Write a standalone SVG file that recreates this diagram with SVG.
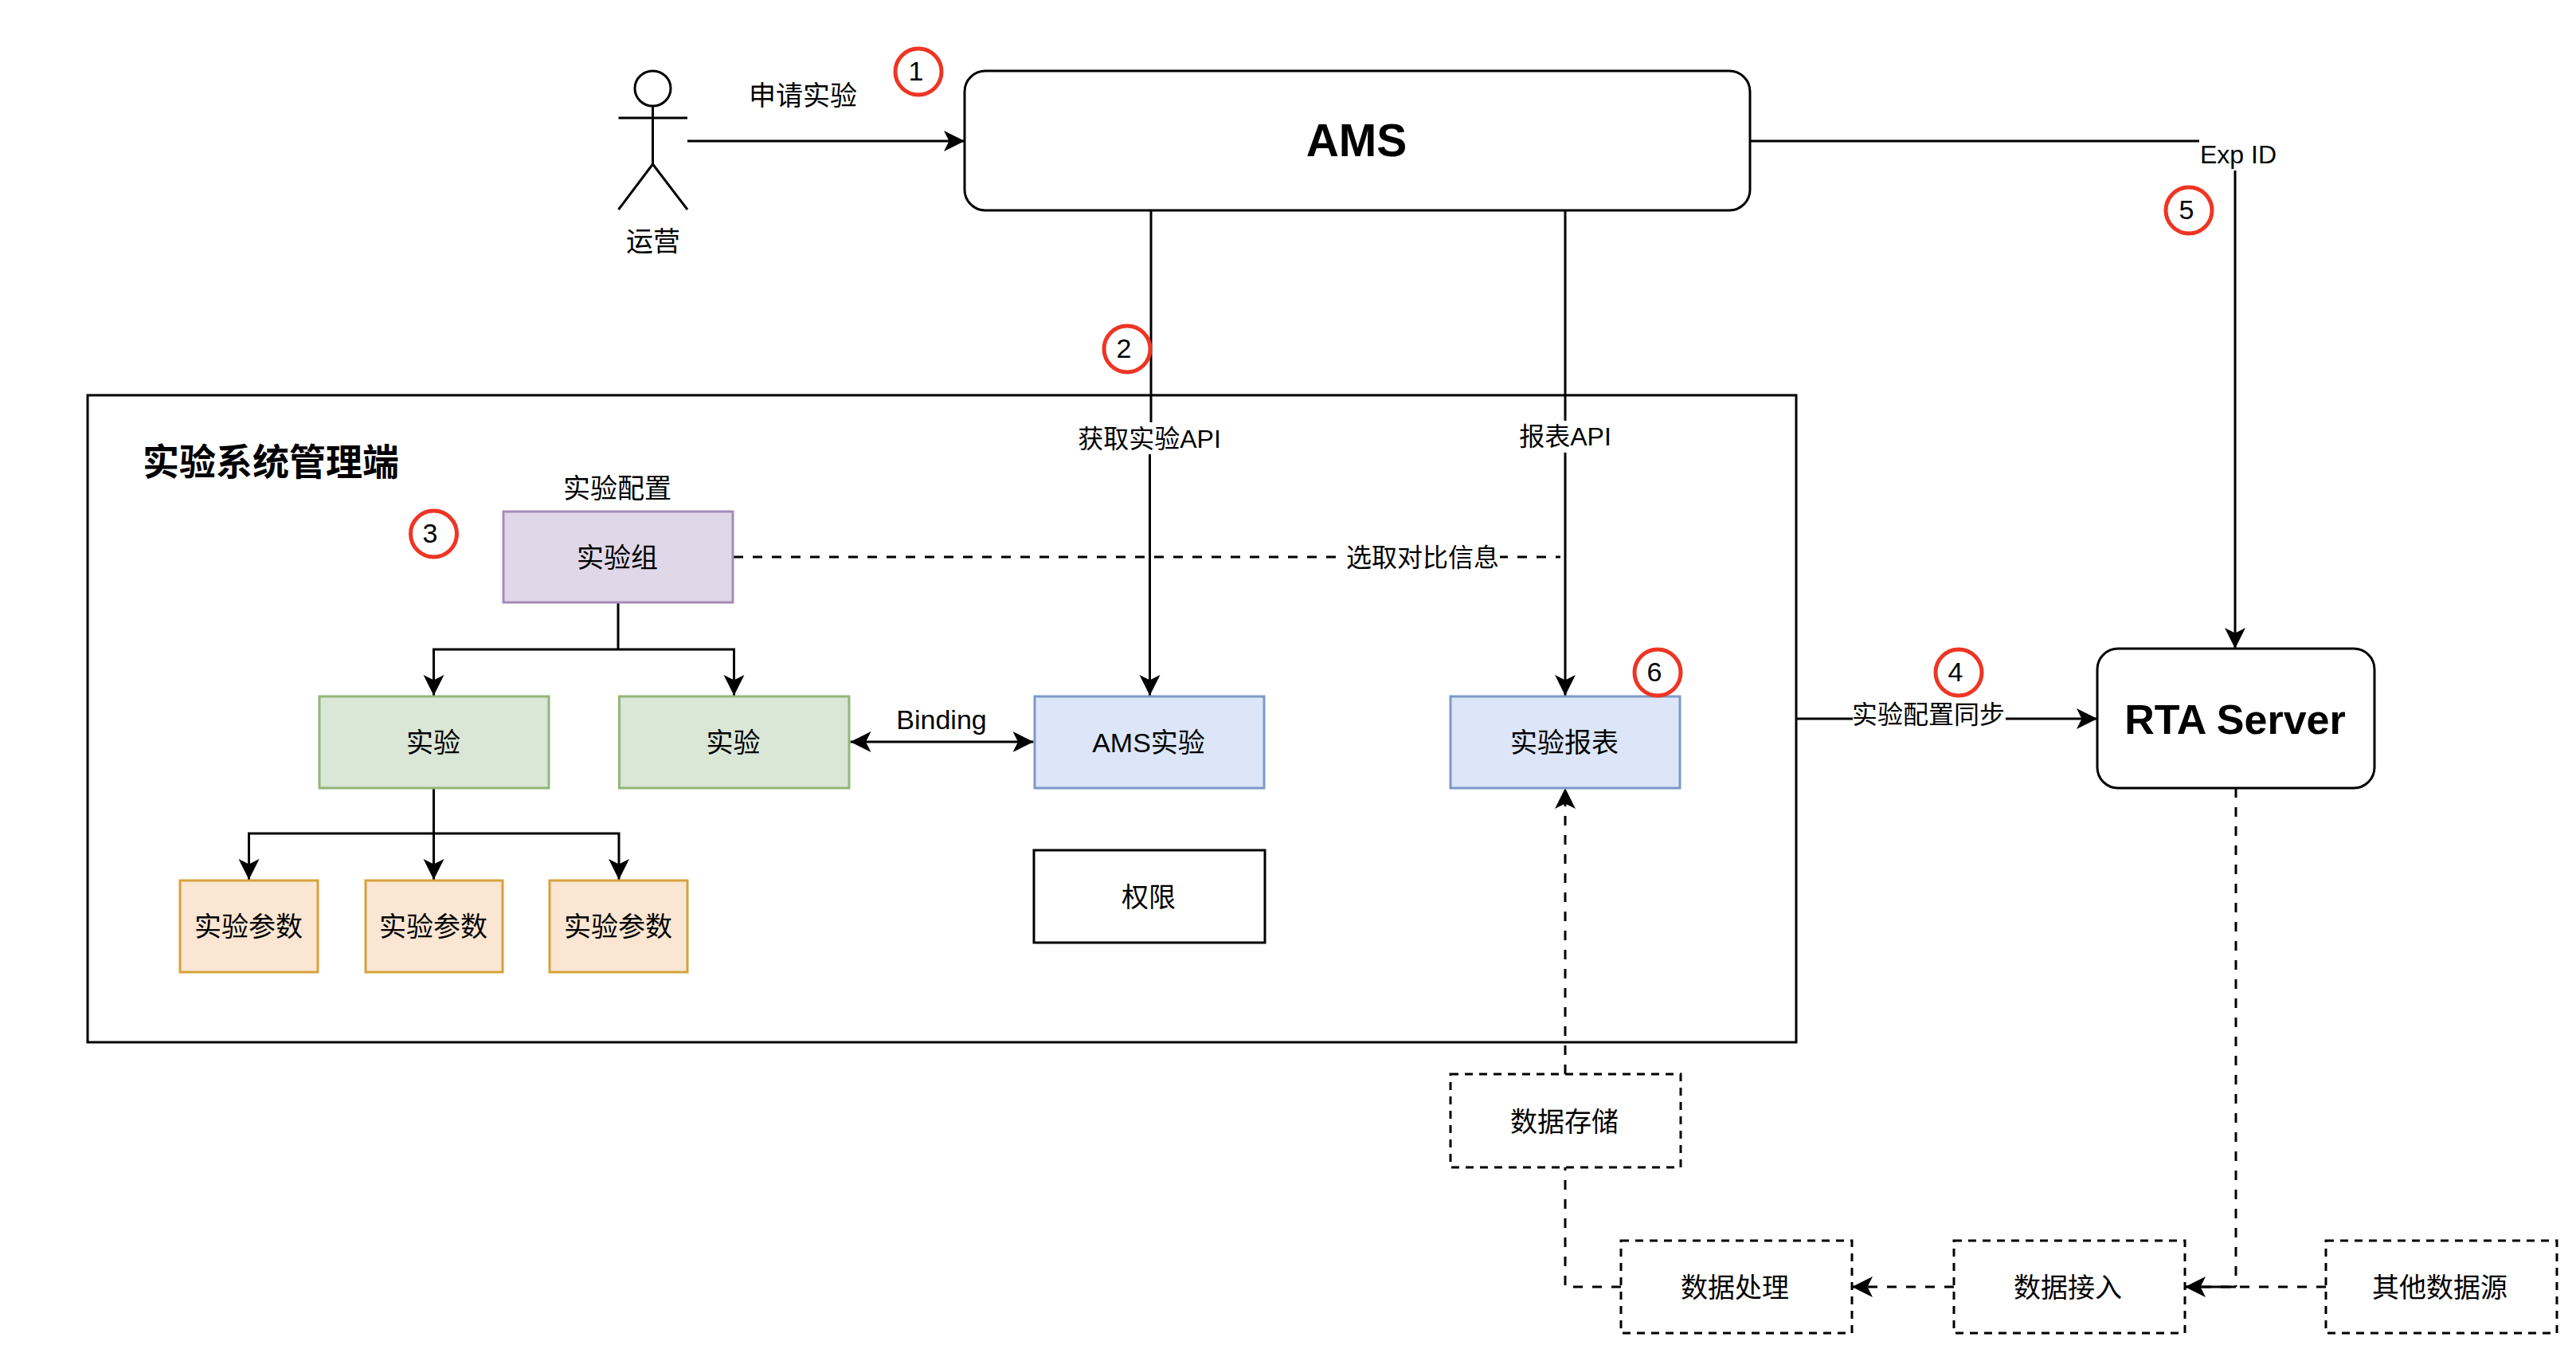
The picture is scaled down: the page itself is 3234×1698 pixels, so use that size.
<svg xmlns="http://www.w3.org/2000/svg" width="3234" height="1698" viewBox="0 0 3234 1698">
<style>
text{font-family:"Liberation Sans","Noto Sans CJK SC",sans-serif;font-size:34px;fill:#000;text-anchor:middle;dominant-baseline:central}
.lbl{font-size:32px}
.b{font-weight:700}
.line{fill:none;stroke:#000;stroke-width:3;stroke-linejoin:miter}
.dash{stroke-dasharray:12 12}
.arr{marker-end:url(#a)}
.arrs{marker-start:url(#as);marker-end:url(#a)}
.box{stroke-width:3}
.purple{fill:#e0d8e8;stroke:#a48bb8}
.green{fill:#dae6d6;stroke:#93b679}
.blue{fill:#dce6f8;stroke:#7d99c6}
.orange{fill:#fae6d2;stroke:#d6a23c}
.plain{fill:#fff;stroke:#000}
.dbox{fill:#fff;stroke:#000;stroke-dasharray:10 8}
.num{fill:#fff;stroke:#ee3524;stroke-width:5}
.bg{fill:#fff;stroke:none}
</style>
<defs>
<marker id="a" markerUnits="userSpaceOnUse" markerWidth="28" markerHeight="28" refX="26" refY="14" orient="auto"><path d="M26,14 L0,1 L6.5,14 L0,27Z" fill="#000"/></marker>
<marker id="as" markerUnits="userSpaceOnUse" markerWidth="28" markerHeight="28" refX="2" refY="14" orient="auto"><path d="M2,14 L28,1 L21.5,14 L28,27Z" fill="#000"/></marker>
</defs>
<rect width="3234" height="1698" fill="#fff"/>
<g id="system"><rect class="box plain" x="110" y="496" width="2145" height="812"/>
<text class="b" x="340" y="580" style="font-size:46px">实验系统管理端</text></g>
<g id="connectors">
<path class="line arr" d="M863,177H1211"/>
<path class="line arr" d="M1445,264V551H1443.5V873"/>
<path class="line arr" d="M1965,264V873"/>
<path class="line" d="M2197,177H2806"/>
<path class="line arr" d="M2806,177V814"/>
<path class="line dash" d="M921,699H1959"/>
<path class="line arr" d="M2255,902H2633"/>
<path class="line" d="M776,757V815"/>
<path class="line arr" d="M776,815H544.5V873"/>
<path class="line arr" d="M776,815H921.5V873"/>
<path class="line" d="M544.5,989V1046"/>
<path class="line arr" d="M544.5,1046H312.5V1104"/>
<path class="line arr" d="M544.5,1046V1104"/>
<path class="line arr" d="M544.5,1046H777V1104"/>
<path class="line arrs" d="M1067.5,931H1297.5"/>
<path class="line dash arr" d="M1965,1348V989"/>
<path class="line dash" d="M2035,1615H1965V1465"/>
<path class="line dash arr" d="M2453,1615H2325"/>
<path class="line dash arr" d="M2920,1615H2743"/>
<path class="line dash" d="M2807,989V1615"/>
<path class="line" d="M2807,1615H2743"/>
<rect class="bg" x="1351" y="530" width="186" height="40"/><text class="lbl" x="1443" y="551">获取实验API</text>
<rect class="bg" x="1905" y="528" width="120" height="40"/><text class="lbl" x="1965" y="548">报表API</text>
<rect class="bg" x="1689" y="680" width="194" height="38"/><text class="lbl" x="1786" y="700">选取对比信息</text>
<rect class="bg" x="2761" y="175" width="100" height="39"/><text class="lbl" x="2810" y="194">Exp ID</text>
<rect class="bg" x="2326" y="878" width="192" height="38"/><text class="lbl" x="2421" y="897">实验配置同步</text>
<text x="1182" y="903">Binding</text>
<text x="1008" y="120">申请实验</text>
</g>
<g id="actor"><ellipse class="line" cx="819.5" cy="111" rx="22.5" ry="22"/><path class="line" d="M819.5,133V206M776.5,148H863M819.5,206L776.5,263M819.5,206L863,263"/><text x="820" y="303">运营</text></g>
<g id="ams"><rect class="box plain" x="1211" y="89" width="986" height="175" rx="26"/><text class="b" x="1703" y="176" style="font-size:57px">AMS</text></g>
<g id="rta"><rect class="box plain" x="2633" y="814" width="348" height="175" rx="26"/><text class="b" x="2806" y="903" style="font-size:52px">RTA Server</text></g>
<g id="group"><rect class="box purple" x="632" y="642" width="288" height="114"/><text x="775" y="700">实验组</text><text x="775" y="613">实验配置</text></g>
<g id="exp1"><rect class="box green" x="401" y="874" width="288" height="115"/><text x="544" y="932">实验</text></g>
<g id="exp2"><rect class="box green" x="777.5" y="874" width="288.5" height="115"/><text x="920.5" y="932">实验</text></g>
<g id="amsexp"><rect class="box blue" x="1299" y="874" width="288" height="115"/><text x="1442" y="932">AMS实验</text></g>
<g id="report"><rect class="box blue" x="1821" y="874" width="288" height="115"/><text x="1964" y="932">实验报表</text></g>
<g id="param1"><rect class="box orange" x="226" y="1105" width="173" height="115"/><text x="312" y="1163">实验参数</text></g>
<g id="param2"><rect class="box orange" x="459" y="1105" width="172" height="115"/><text x="544" y="1163">实验参数</text></g>
<g id="param3"><rect class="box orange" x="690" y="1105" width="173" height="115"/><text x="776" y="1163">实验参数</text></g>
<g id="perm"><rect class="box plain" x="1298" y="1067" width="290" height="116"/><text x="1442" y="1126">权限</text></g>
<g id="store"><rect class="box dbox" x="1821" y="1348" width="289" height="117"/><text x="1964" y="1408">数据存储</text></g>
<g id="proc"><rect class="box dbox" x="2035" y="1557" width="290" height="116"/><text x="2178" y="1616">数据处理</text></g>
<g id="ingest"><rect class="box dbox" x="2453" y="1557" width="290" height="116"/><text x="2596" y="1616">数据接入</text></g>
<g id="other"><rect class="box dbox" x="2920" y="1557" width="290" height="116"/><text x="3063" y="1616">其他数据源</text></g>
<g id="marks">
<circle class="num" cx="1153" cy="90" r="29"/><text x="1150" y="89">1</text>
<circle class="num" cx="1415" cy="438" r="29"/><text x="1411" y="437">2</text>
<circle class="num" cx="544.5" cy="670" r="29"/><text x="540" y="669">3</text>
<circle class="num" cx="2459" cy="844" r="29"/><text x="2455" y="843">4</text>
<circle class="num" cx="2748" cy="264" r="29"/><text x="2745" y="263">5</text>
<circle class="num" cx="2081" cy="844" r="29"/><text x="2077" y="843">6</text>
</g>
</svg>
